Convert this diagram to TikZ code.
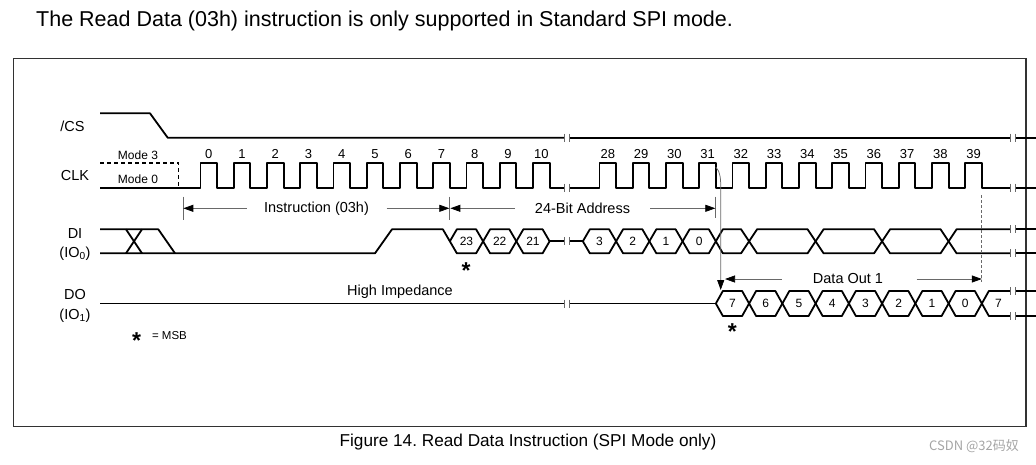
\documentclass[tikz,border=0pt]{standalone}
\usepackage{fontspec}
\setmainfont{Liberation Sans}
\newfontfamily\cjkfont{Noto Sans CJK SC}
\usetikzlibrary{arrows.meta}
\definecolor{anngray}{RGB}{105,105,105}
\definecolor{framegray}{RGB}{50,50,50}
\definecolor{wmgray}{RGB}{165,165,165}
\newcommand{\fsz}[1]{\fontsize{#1}{#1}\selectfont}
\newcommand{\Fx}[1]{(217.1+(#1)*33.25)}
\def\CSh{113.3}\def\CSl{137.7}
\def\CKh{162.7}\def\CKl{187.7}
\def\DIh{229.3}\def\DIl{253.3}\def\DIm{241.3}
\def\DOh{291}\def\DOl{316}\def\DOm{303.5}
\frenchspacing
\begin{document}
\begin{tikzpicture}[x=1pt,y=-1pt,
  sig/.style={line width=1.8pt, line join=round},
  ann/.style={line width=0.75pt, draw=anngray},
  arrowto/.style={ann, -{Triangle[length=10pt,width=7pt,color=black]}},
  brk/.style={line width=0.8pt, draw=anngray},
  lbl/.style={inner sep=0pt, font=\fsz{14.5}},
  num/.style={inner sep=0pt, font=\fsz{13}},
  hexn/.style={inner sep=0pt, font=\fsz{12}},
  modetxt/.style={inner sep=0pt, font=\fsz{12}},
  msbstar/.style={inner sep=0pt, anchor=base, font=\fsz{23}\bfseries},
]
\useasboundingbox (0,0) rectangle (1036,464);

% title and caption
\node[inner sep=0pt, anchor=base west, font=\fsz{21.5}] (title) at (36,26.5)
  {The Read Data (03h) instruction is only supported in Standard SPI mode.};
\node[inner sep=0pt, anchor=base, font=\fsz{17.2}] (caption) at (528,446.5)
  {Figure 14. Read Data Instruction (SPI Mode only)};
\node[inner sep=0pt, anchor=base, font=\cjkfont\fsz{13}, text=wmgray] (wm) at (974,450)
  {CSDN @32码奴};

% frame
\draw[line width=1.4pt, draw=framegray] (13.5,58.7) rectangle (1026,426.7);

% signal names
\node[lbl] (lcs) at (72.5,126) {/CS};
\node[lbl] (lclk) at (75,176) {CLK};
\node[lbl] (ldi) at (75,233.3) {DI};
\node[lbl] (ldi2) at (75,253.5) {(IO$_{\mathrm{0}}$)};
\node[lbl] (ldo) at (75,295) {DO};
\node[lbl] (ldo2) at (75,315.5) {(IO$_{\mathrm{1}}$)};

% /CS
\draw[sig] (100,\CSh) -- (150,\CSh) -- (167.7,\CSl) -- (564.5,\CSl);
\draw[sig] (569.5,\CSl) -- (1010,\CSl);
\draw[sig] (1015,\CSl) -- (1036,\CSl);

% CLK
\draw[line width=1.6pt, dash pattern=on 4pt off 3pt] (100,\CKh) -- (178.3,\CKh) -- (178.3,\CKl);
\node[modetxt] (m3) at (138,155.5) {Mode 3};
\node[modetxt] (m0) at (138,179.5) {Mode 0};
\draw[sig] (100,\CKl) foreach \i in {0,...,10} {
  -- ({200.5+\i*33.25},\CKl) -- ({200.5+\i*33.25},\CKh)
  -- ({217.1+\i*33.25},\CKh) -- ({217.1+\i*33.25},\CKl) } -- (564.5,\CKl);
\draw[sig] (569.5,\CKl) foreach \i in {12,...,23} {
  -- ({200.5+\i*33.25},\CKl) -- ({200.5+\i*33.25},\CKh)
  -- ({217.1+\i*33.25},\CKh) -- ({217.1+\i*33.25},\CKl) } -- (1010,\CKl);
\draw[sig] (1015,\CKl) -- (1036,\CKl);
\foreach \i in {0,...,10} \node[num] (n\i) at ({208.8+\i*33.25},154) {\i};
\foreach \n in {28,...,39} {
  \pgfmathtruncatemacro\k{\n-16}
  \node[num] (n\n) at ({208.8+\k*33.25},154) {\n};
}

% DI
\draw[sig] (100,\DIh) -- (158.3,\DIh) -- (175,\DIl);
\draw[sig] (126,\DIh) -- (142,\DIl);
\draw[sig] (126,\DIl) -- (142,\DIh);
\draw[sig] (100,\DIl) -- (375,\DIl) -- (392,\DIh) -- ({\Fx{7}-7},\DIh) -- ({\Fx{7}},\DIm);
\foreach \a/\t in {7/23,8/22,9/21,11/3,12/2,13/1,14/0} {
  \draw[sig] ({\Fx{\a}},\DIm) -- ({\Fx{\a}+7},\DIh) -- ({\Fx{\a+1}-7},\DIh)
    -- ({\Fx{\a+1}},\DIm) -- ({\Fx{\a+1}-7},\DIl) -- ({\Fx{\a}+7},\DIl) -- cycle;
  \node[hexn] (di\t) at ({\Fx{\a}+16.6},\DIm) {\t};
}
\draw[sig] ({\Fx{10}},\DIm) -- (564.5,\DIm);
\draw[sig] (569.5,\DIm) -- ({\Fx{11}},\DIm);
\draw[sig] ({\Fx{15}},\DIm) -- ({\Fx{15}+7},\DIh) -- ({\Fx{16}-8},\DIh) -- ({\Fx{16}+8},\DIl)
  -- ({\Fx{18}-8},\DIl) -- ({\Fx{18}+8},\DIh) -- ({\Fx{20}-8},\DIh) -- ({\Fx{20}+8},\DIl)
  -- ({\Fx{22}-8},\DIl) -- ({\Fx{22}+8},\DIh) -- (1010,\DIh);
\draw[sig] ({\Fx{15}},\DIm) -- ({\Fx{15}+7},\DIl) -- ({\Fx{16}-8},\DIl) -- ({\Fx{16}+8},\DIh)
  -- ({\Fx{18}-8},\DIh) -- ({\Fx{18}+8},\DIl) -- ({\Fx{20}-8},\DIl) -- ({\Fx{20}+8},\DIh)
  -- ({\Fx{22}-8},\DIh) -- ({\Fx{22}+8},\DIl) -- (1010,\DIl);
\draw[sig] (1015,\DIh) -- (1036,\DIh);
\draw[sig] (1015,\DIl) -- (1036,\DIl);

% DO
\draw[sig] (100,\DOm) -- (564.5,\DOm);
\draw[sig] (569.5,\DOm) -- ({\Fx{15}},\DOm);
\node[lbl] (hiz) at (400,291.5) {High Impedance};
\foreach \a/\t in {15/7,16/6,17/5,18/4,19/3,20/2,21/1,22/0} {
  \draw[sig] ({\Fx{\a}},\DOm) -- ({\Fx{\a}+7},\DOh) -- ({\Fx{\a+1}-7},\DOh)
    -- ({\Fx{\a+1}},\DOm) -- ({\Fx{\a+1}-7},\DOl) -- ({\Fx{\a}+7},\DOl) -- cycle;
  \node[hexn] (do\t) at ({\Fx{\a}+16.6},\DOm) {\t};
}
\draw[sig] ({\Fx{23}},\DOm) -- ({\Fx{23}+7},\DOh) -- (1010,\DOh);
\draw[sig] ({\Fx{23}},\DOm) -- ({\Fx{23}+7},\DOl) -- (1010,\DOl);
\node[hexn] (dolast) at ({\Fx{23}+16.6},\DOm) {7};
\draw[sig] (1015,\DOh) -- (1036,\DOh);
\draw[sig] (1015,\DOl) -- (1036,\DOl);

% break marks
\foreach \x in {564.5,569.5} \foreach \y in {\CSl,\CKl,\DIm,\DOm}
  \draw[brk] (\x,{\y-4}) -- (\x,{\y+4});
\foreach \x in {1010,1015} \foreach \y in {\CSl,\CKl,\DIh,\DIl,\DOh,\DOl}
  \draw[brk] (\x,{\y-4}) -- (\x,{\y+4});

% annotations: instruction / address
\coordinate (t0a) at (183.3,196.7); \coordinate (t0b) at (183.3,220);
\coordinate (t1a) at ({\Fx{7}},196.7); \coordinate (t1b) at ({\Fx{7}},220);
\coordinate (t2a) at ({\Fx{15}},196.7); \coordinate (t2b) at ({\Fx{15}},218);
\draw[ann] (t0a) -- (t0b);
\draw[ann] (t1a) -- (t1b);
\draw[ann] (t2a) -- (t2b);
\node[lbl] (instr) at (316.5,208.3) {Instruction (03h)};
\node[lbl] (addr) at (582.5,208.3) {24-Bit Address};
\coordinate (i0) at (246.7,208.3); \coordinate (i0t) at (183.3,208.3);
\coordinate (i1) at (386.7,208.3); \coordinate (i1t) at ({\Fx{7}-0.5},208.3);
\coordinate (a0) at (515,208.3); \coordinate (a0t) at ({\Fx{7}+0.5},208.3);
\coordinate (a1) at (650,208.3); \coordinate (a1t) at ({\Fx{15}-0.5},208.3);
\draw[arrowto] (i0) -- (i0t);
\draw[arrowto] (i1) -- (i1t);
\draw[arrowto] (a0) -- (a0t);
\draw[arrowto] (a1) -- (a1t);

% CLK 31 -> DO
\coordinate (c31) at ({\Fx{15}},167);
\coordinate (dotip) at (720.7,290);
\draw[arrowto] (c31) .. controls (720.7,172) and (720.7,180) .. (720.7,188) -- (dotip);

% Data Out 1
\coordinate (d39a) at ({\Fx{23}},195); \coordinate (d39b) at ({\Fx{23}},282);
\draw[ann, dash pattern=on 3pt off 2pt] (d39a) -- (d39b);
\node[lbl] (dout) at (848,279) {Data Out 1};
\coordinate (o0) at (781.7,279); \coordinate (o0t) at (725,279);
\coordinate (o1) at (916.7,279); \coordinate (o1t) at ({\Fx{23}},279);
\draw[arrowto] (o0) -- (o0t);
\draw[arrowto] (o1) -- (o1t);

% MSB stars
\node[msbstar] (s1) at (466,{265+13.3}) {*};
\node[msbstar] (s2) at (732.3,{326+13.3}) {*};
\node[msbstar] (s3) at (136.7,{335+13.3}) {*};
\node[inner sep=0pt, font=\fsz{11.5}] (msbtxt) at (169.5,335.5) {= MSB};
\end{tikzpicture}
\end{document}
